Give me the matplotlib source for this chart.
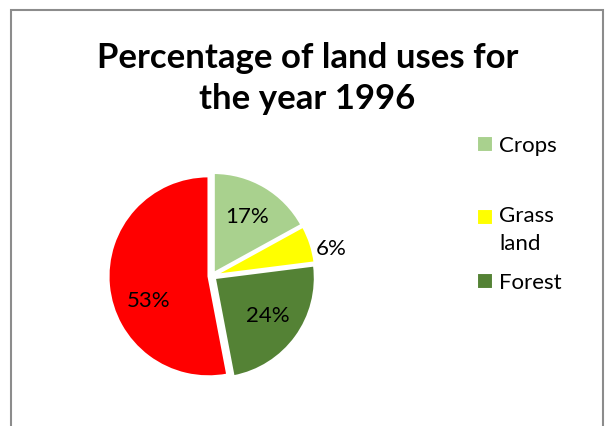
import matplotlib
matplotlib.use("Agg")
import numpy as np
import matplotlib.pyplot as plt
from matplotlib.patches import Rectangle
from matplotlib.legend_handler import HandlerPatch

# ---- data ----
categories = ["Crops", "Grass land", "Forest", "Others"]
values = [17, 6, 24, 53]
colors = ["#A9D18E", "#FFFF00", "#548235", "#FF0000"]
legend_labels = ["Crops", "Grass\nland", "Forest"]
title = "Percentage of land uses for\nthe year 1996"

plt.rcParams['font.family'] = ['Lato', 'DejaVu Sans']

W, H = 605, 426
fig = plt.figure(figsize=(W / 100, H / 100), dpi=100)

# chart frame (bottom edge runs off the image)
fig.patches.append(Rectangle((11 / W, -0.1), (603 - 11) / W, (H - 10) / H + 0.1,
                             transform=fig.transFigure, fill=False,
                             edgecolor='#8c8c8c', linewidth=1.5))

# pie axes: center (212, 276) px, radius 100 px
cx, cy, half = 212, 276, 120
ax = fig.add_axes([(cx - half) / W, (H - cy - half) / H, 2 * half / W, 2 * half / H])
wedges, texts, autotexts = ax.pie(
    values, colors=colors, startangle=90, counterclock=False,
    explode=[0.035] * len(values), radius=1.0,
    wedgeprops=dict(edgecolor='white', linewidth=1.5),
    autopct='%1.0f%%', pctdistance=0.65,
    textprops=dict(fontsize=16, color='black'))
ax.set_xlim(-1.2, 1.2)
ax.set_ylim(-1.2, 1.2)
ax.set_aspect('equal')
ax.axis('off')


def place(idx, dist, dang):
    w = wedges[idx]
    a = np.deg2rad((w.theta1 + w.theta2) / 2 + dang)
    autotexts[idx].set_position((dist * np.cos(a), dist * np.sin(a)))


place(1, 1.22, -5)    # small slice label sits outside
place(3, 0.68, 16)    # label of the large slice

# title
fig.text(0.508, 1 - 78.5 / H, title, ha='center', va='center', fontsize=25,
         fontweight='bold', linespacing=1.38)

# legend (one legend per entry to reproduce the uneven spacing)
line_px = 27


def shifted_patch(shift_pt):
    def f(legend, orig_handle, xdescent, ydescent, width, height, fontsize):
        return Rectangle((-xdescent, -ydescent + shift_pt), width, height)
    return f


entry_y = [146, 230, 283]
for i, lab in enumerate(legend_labels):
    nlines = lab.count("\n") + 1
    shift_pt = (nlines - 1) * line_px / 2 * 0.72
    leg = fig.legend([wedges[i]], [lab], loc='center left',
                     bbox_to_anchor=(477 / W, 1 - entry_y[i] / H),
                     frameon=False, fontsize=16, borderpad=0, borderaxespad=0,
                     handlelength=0.7, handleheight=0.7, handletextpad=0.3,
                     handler_map={wedges[i]: HandlerPatch(patch_func=shifted_patch(shift_pt))})
    for t in leg.get_texts():
        t.set_linespacing(1.5)

fig.savefig("out.png", dpi=100)
